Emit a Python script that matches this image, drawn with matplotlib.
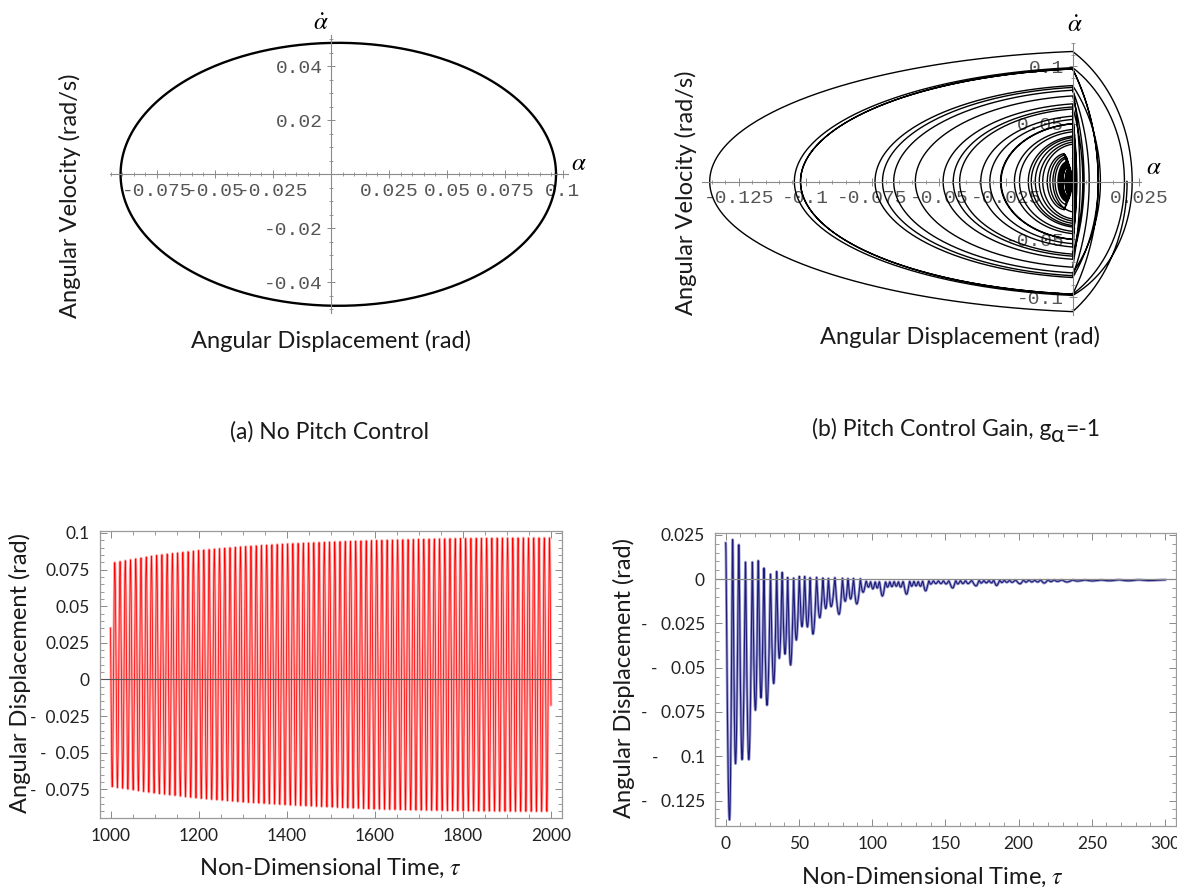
import numpy as np
import matplotlib
matplotlib.use('Agg')
import matplotlib.pyplot as plt
from matplotlib.ticker import FixedLocator, FixedFormatter, MultipleLocator

W, H = 1177, 888
SANS = ['Lato', 'DejaVu Sans']
MONO = ['Liberation Mono', 'DejaVu Sans Mono']
plt.rcParams['font.family'] = SANS
plt.rcParams['mathtext.fontset'] = 'stix'

# ---- (a) no pitch control ------------------------------------------------
# limit cycle extremes
orbit_alpha = [-0.0907, 0.0970]
orbit_rate = [-0.0487, 0.0487]

# time history 1000..2000: upper / lower envelope readings
env_t = [1000, 1100, 1200, 1300, 1400, 1500, 1600, 1700, 1800, 1900, 2000]
env_hi = [0.0793, 0.0845, 0.0880, 0.0906, 0.0925, 0.0938, 0.0948, 0.0956, 0.0962, 0.0965, 0.0966]
env_lo = [-0.0730, -0.0775, -0.0810, -0.0836, -0.0855, -0.0870, -0.0884, -0.0891, -0.0896, -0.0899, -0.0900]
osc_period = 11.89
osc_start = 0.035

# ---- (b) pitch control gain -1 ------------------------------------------
# troughs of the time history (time, value) and the peak that follows each
trough_t = [2.6, 6.7, 11.2, 15.8, 20.3, 24.1, 28.2, 32.8, 36.6, 40.5, 44.3, 48.2,
            52.1, 55.8, 59.6, 64.2, 68.3, 72.0, 77.4, 81.6, 85.3, 89.5, 93.8,
            97.5, 100.5, 103.5, 107.0, 110.5, 113.5, 116.5, 119.5, 123.5, 127.0,
            130.0, 133.0, 136.5, 140.0, 143.5, 147.0, 150.5, 155.0, 158.5, 162.0,
            165.5, 171.0, 174.5, 178.0, 181.5, 185.0, 188.5, 192.0, 195.5, 201.0,
            205.0, 209.0, 213.0, 217.5, 222.0, 226.5, 233.0, 240.0, 250.0, 262.0,
            275.0, 288.0]
trough_v = [-0.1359, -0.1042, -0.1019, -0.1019, -0.0740, -0.0670, -0.0712, -0.0589,
            -0.0447, -0.0423, -0.0485, -0.0344, -0.0268, -0.0270, -0.0310, -0.0218,
            -0.0166, -0.0155, -0.0199, -0.0125, -0.0112, -0.0140, -0.0074,
            -0.0045, -0.0055, -0.0050, -0.0095, -0.0045, -0.0042, -0.0040, -0.0045,
            -0.0085, -0.0040, -0.0038, -0.0040, -0.0066, -0.0028, -0.0025, -0.0025,
            -0.0027, -0.0050, -0.0027, -0.0025, -0.0025, -0.0038, -0.0022, -0.0021,
            -0.0021, -0.0036, -0.0019, -0.0018, -0.0018, -0.0026, -0.0017, -0.0016,
            -0.0016, -0.0022, -0.0014, -0.0013, -0.0016, -0.0011, -0.0010, -0.0009,
            -0.0009, -0.0008]
peak_v = [0.0204, 0.0223, 0.0194, 0.0096, 0.0096, 0.0104, 0.0062, 0.0028, 0.0043,
          0.0038, 0.0009, 0.0006, 0.0015, 0.0015, 0.0008, 0.0010, 0.0006, 0.0004,
          0.0008, 0.0005, 0.0003, 0.0004, 0.0002, -0.0012,
          -0.0015, -0.0016, -0.0015, -0.0016, -0.0015, -0.0014, -0.0015, -0.0014,
          -0.0013, -0.0013, -0.0014, -0.0012, -0.0010, -0.0010, -0.0010, -0.0010,
          -0.0010, -0.0009, -0.0009, -0.0009, -0.0008, -0.0008, -0.0008, -0.0008,
          -0.0007, -0.0007, -0.0007, -0.0007, -0.0006, -0.0006, -0.0006, -0.0006,
          -0.0005, -0.0005, -0.0005, -0.0005, -0.0005, -0.0005, -0.0005, -0.0004,
          -0.0004, -0.0004]
t_end = 300.0

# piecewise oscillator shape used between the read extrema
KAPPA = 0.144
V_REF, A_REF = 0.1127, 0.136
W_RIGHT = 2.8


def rising(a, b, n=120):
    # the corner sits at alpha = 0, or just below the peak when the peak is negative
    wall = 0.0 if b > 0 else b - 0.2 * (b - a)
    a, b = a - wall, b - wall
    d = -a
    w = V_REF / (np.sqrt(A_REF * d) * np.sqrt(1 + 2 * KAPPA))
    r, c = (1 + KAPPA) * d, KAPPA * d
    th = np.linspace(0, np.arccos(c / r), n)
    al, vl, sl = c - r * np.cos(th), w * r * np.sin(th), th / w
    v0 = vl[-1]
    cr = (b ** 2 - (v0 / W_RIGHT) ** 2) / (2 * b)
    rr = b - cr
    ph0 = np.arcsin(-cr / rr)
    ph = np.linspace(ph0, np.pi / 2, n // 2)
    ar = cr + rr * np.sin(ph)
    vr = W_RIGHT * rr * np.cos(ph)
    sr = sl[-1] + (ph - ph0) / W_RIGHT
    return np.r_[al, ar[1:]] + wall, np.r_[vl, vr[1:]], np.r_[sl, sr[1:]]


a_all, v_all, t_all = [], [], []


def add(a, v, s, t0, k):
    a_all.append(a)
    v_all.append(v)
    t_all.append(t0 + k * s)


a, v, s = rising(trough_v[0], peak_v[0])
add(a[::-1], -v[::-1], s[-1] - s[::-1], 0.0, trough_t[0] / s[-1])
for i in range(len(trough_v) - 1):
    a1, v1, s1 = rising(trough_v[i], peak_v[i + 1])
    a2, v2, s2 = rising(trough_v[i + 1], peak_v[i + 1])
    d1, d2 = s1[-1], s2[-1]
    k = (trough_t[i + 1] - trough_t[i]) / (d1 + d2)
    add(a1, v1, s1, trough_t[i], k)
    add(a2[::-1], -v2[::-1], d1 + d2 - s2[::-1], trough_t[i], k)
a, v, s = rising(trough_v[-1], peak_v[-1])
add(a, v, s, trough_t[-1], (t_end - trough_t[-1]) / s[-1])

b_alpha = np.concatenate(a_all)
b_rate = np.concatenate(v_all)
b_time = np.concatenate(t_all)


def rect(l, t, r, b):
    return [l / W, 1 - b / H, (r - l) / W, (b - t) / H]


def cross_axes(ax, xlim, ylim):
    ax.set_xlim(*xlim)
    ax.set_ylim(*ylim)
    ax.patch.set_alpha(0)
    for side in ['top', 'right']:
        ax.spines[side].set_visible(False)
    for side in ['left', 'bottom']:
        ax.spines[side].set_position('zero')
        ax.spines[side].set_color('#8a8a8a')
        ax.spines[side].set_linewidth(0.8)
    ax.tick_params(which='both', direction='inout', colors='#8a8a8a',
                   labelcolor='#555555', labelsize=14, pad=3)
    ax.tick_params(which='major', length=6, width=0.7)
    ax.tick_params(which='minor', length=3.5, width=0.6)
    for lab in ax.get_xticklabels() + ax.get_yticklabels():
        lab.set_family(MONO)


def framed_axes(ax, xlim, ylim):
    ax.set_xlim(*xlim)
    ax.set_ylim(*ylim)
    for side in ax.spines.values():
        side.set_color('#9a9a9a')
        side.set_linewidth(0.9)
    ax.tick_params(which='both', direction='in', top=True, right=True,
                   colors='#8a8a8a', labelcolor='#222222', labelsize=12.5)
    ax.tick_params(which='major', length=5, width=0.7, pad=7)
    ax.tick_params(which='minor', length=3, width=0.6)


fig = plt.figure(figsize=(W / 100, H / 100), dpi=100)
LAB = dict(fontsize=17, ha='center', va='center', color='#1a1a1a')

# ---- top left: phase plane, no control
ax1 = fig.add_axes(rect(110, 35, 568, 313))
th = np.linspace(0, 2 * np.pi, 400)
oc = (orbit_alpha[0] + orbit_alpha[1]) / 2
oa = (orbit_alpha[1] - orbit_alpha[0]) / 2
ax1.plot(oc + oa * np.cos(th), orbit_rate[1] * np.sin(th), color='black', lw=1.7)
ax1.xaxis.set_major_locator(FixedLocator([-0.075, -0.05, -0.025, 0.025, 0.05, 0.075, 0.1]))
ax1.xaxis.set_major_formatter(FixedFormatter(['-0.075', '-0.05', '-0.025', '0.025', '0.05', '0.075', '0.1']))
ax1.yaxis.set_major_locator(FixedLocator([-0.04, -0.02, 0.02, 0.04]))
ax1.yaxis.set_major_formatter(FixedFormatter(['-0.04', '-0.02', '0.02', '0.04']))
ax1.xaxis.set_minor_locator(MultipleLocator(0.005))
ax1.yaxis.set_minor_locator(MultipleLocator(0.005))
cross_axes(ax1, (-0.09526, 0.10216), (-0.05137, 0.0516))

# ---- top right: phase plane, gain -1
ax2 = fig.add_axes(rect(702.5, 43, 1141, 315.5))
ax2.plot(b_alpha, b_rate, color='black', lw=1.0)
ax2.xaxis.set_major_locator(FixedLocator([-0.125, -0.1, -0.075, -0.05, -0.025, 0.025]))
ax2.xaxis.set_major_formatter(FixedFormatter(['-0.125', '-0.1', '-0.075', '-0.05', '-0.025', '0.025']))
ax2.yaxis.set_major_locator(FixedLocator([-0.1, -0.05, 0.05, 0.1]))
ax2.yaxis.set_major_formatter(FixedFormatter(['-0.1', '-0.05', '0.05', '0.1']))
ax2.xaxis.set_minor_locator(MultipleLocator(0.005))
ax2.yaxis.set_minor_locator(MultipleLocator(0.01))
cross_axes(ax2, (-0.1386, 0.0256), (-0.1160, 0.1200))

# axis symbols and labels of the phase plots
fig.text(321 / W, 1 - 22 / H, r'$\dot{\alpha}$', fontsize=18, ha='center', va='center')
fig.text(579 / W, 1 - 162 / H, r'$\alpha$', fontsize=18, ha='center', va='center')
fig.text(1075 / W, 1 - 24 / H, r'$\dot{\alpha}$', fontsize=18, ha='center', va='center')
fig.text(1154 / W, 1 - 167 / H, r'$\alpha$', fontsize=18, ha='center', va='center')
fig.text(70 / W, 1 - 196 / H, 'Angular Velocity (rad/s)', rotation=90, **LAB)
fig.text(331 / W, 1 - 341 / H, 'Angular Displacement (rad)', **LAB)
fig.text(686 / W, 1 - 193 / H, 'Angular Velocity (rad/s)', rotation=90, **LAB)
fig.text(960 / W, 1 - 337 / H, 'Angular Displacement (rad)', **LAB)

# captions
fig.text(330 / W, 1 - 432 / H, '(a) No Pitch Control', fontsize=16.5,
         ha='center', va='center', color='#1a1a1a')
renderer = fig.canvas.get_renderer()
cap_parts = ['(b) Pitch Control Gain, g', '\u03b1', '=-1']
cap_drop = [0, 6, 0]
pieces = [fig.text(0, 1 - 430 / H, p, fontsize=16.5, va='baseline', color='#1a1a1a')
          for p in cap_parts]
widths = [p.get_window_extent(renderer).width for p in pieces]
x0 = 956 - sum(widths) / 2
for p, wd, dy in zip(pieces, widths, cap_drop):
    p.set_position((x0 / W, 1 - (436 + dy) / H))
    x0 += wd

# ---- bottom left: time history, no control
ax3 = fig.add_axes(rect(99.5, 530.7, 562, 818))
t3 = np.linspace(1000, 2000, 40001)
hi = np.interp(t3, env_t, env_hi)
lo = np.interp(t3, env_t, env_lo)
mid0 = (env_hi[0] + env_lo[0]) / 2
amp0 = (env_hi[0] - env_lo[0]) / 2
ph0 = np.pi - np.arcsin((osc_start - mid0) / amp0)
y3 = (hi + lo) / 2 + (hi - lo) / 2 * np.sin(2 * np.pi * (t3 - 1000) / osc_period + ph0)
ax3.plot(t3, y3, color='#ffaaaa', lw=1.9)
ax3.plot(t3, y3, color='#ff0000', lw=0.55)
ax3.axhline(0, color='#555555', lw=0.8)
ax3.xaxis.set_major_locator(FixedLocator([1000, 1200, 1400, 1600, 1800, 2000]))
ax3.xaxis.set_minor_locator(MultipleLocator(50))
ax3.yaxis.set_major_locator(FixedLocator([0.1, 0.075, 0.05, 0.025, 0, -0.025, -0.05, -0.075]))
ax3.yaxis.set_major_formatter(FixedFormatter(['0.1', '0.075', '0.05', '0.025', '0',
                                              '-  0.025', '-  0.05', '-  0.075']))
ax3.yaxis.set_minor_locator(MultipleLocator(0.005))
framed_axes(ax3, (975, 2025), (-0.0945, 0.1015))
fig.text(20 / W, 1 - 673 / H, 'Angular Displacement (rad)', rotation=90, **LAB)
fig.text(330 / W, 1 - 868 / H, r'Non-Dimensional Time, $\tau$', **LAB)

# ---- bottom right: time history, gain -1
ax4 = fig.add_axes(rect(714.7, 533.3, 1176, 826))
ax4.plot(b_time, b_alpha, color='#9a9ad0', lw=2.0)
ax4.plot(b_time, b_alpha, color='#1c1c78', lw=0.8)
ax4.axhline(0, color='#8a8a8a', lw=0.9)
ax4.xaxis.set_major_locator(FixedLocator([0, 50, 100, 150, 200, 250, 300]))
ax4.xaxis.set_minor_locator(MultipleLocator(10))
ax4.yaxis.set_major_locator(FixedLocator([0.025, 0, -0.025, -0.05, -0.075, -0.1, -0.125]))
ax4.yaxis.set_major_formatter(FixedFormatter(['0.025', '0', '-   0.025', '-   0.05',
                                              '-   0.075', '-     0.1', '-   0.125']))
ax4.yaxis.set_minor_locator(MultipleLocator(0.005))
framed_axes(ax4, (-7.5, 307.5), (-0.1394, 0.0259))
fig.text(624 / W, 1 - 678 / H, 'Angular Displacement (rad)', rotation=90, **LAB)
fig.text(932 / W, 1 - 877 / H, r'Non-Dimensional Time, $\tau$', **LAB)

fig.savefig('out.png', dpi=100)
